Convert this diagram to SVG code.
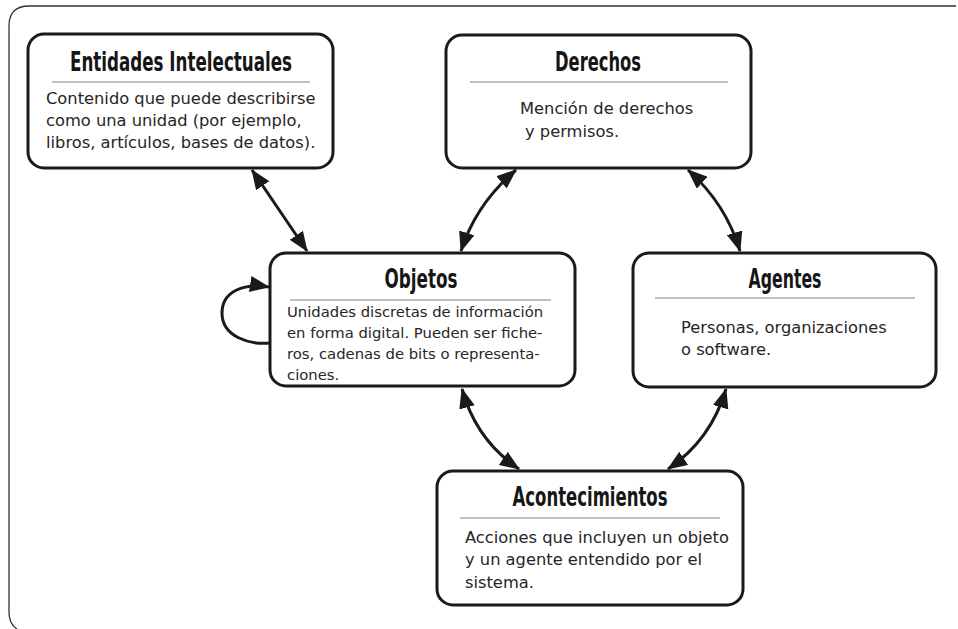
<svg xmlns="http://www.w3.org/2000/svg" width="958" height="629" viewBox="0 0 958 629">
<defs>
<style>
.box{fill:#fff;stroke:#1a1a1a;stroke-width:3}
.sep{stroke:#aaa;stroke-width:1.3}
.title{font-family:"DejaVu Sans Condensed","Liberation Sans Narrow","DejaVu Sans",sans-serif;font-weight:bold;font-size:27px;fill:#161616}
.body{font-family:"DejaVu Sans","Verdana",sans-serif;font-size:16.3px;fill:#262626}
.small{font-size:14.8px}
.conn{fill:none;stroke:#1a1a1a;stroke-width:3}
</style>
<marker id="ah" viewBox="0 0 20 16" refX="19" refY="8" markerWidth="20" markerHeight="16" markerUnits="userSpaceOnUse" orient="auto-start-reverse">
<path d="M0,0 L20,8 L0,16 Z" fill="#1a1a1a"/>
</marker>
</defs>
<rect width="958" height="629" fill="#fff"/>
<path d="M956,6 L29,6 Q9,6 9,26 L9,612 Q9,624 17,629" fill="none" stroke="#333" stroke-width="1.3"/>

<g id="connectors">
<path class="conn" d="M252,170 L307,251" marker-start="url(#ah)" marker-end="url(#ah)"/>
<path class="conn" d="M516,170 Q476,204 461,251" marker-start="url(#ah)" marker-end="url(#ah)"/>
<path class="conn" d="M688,170 Q726,204 740,251" marker-start="url(#ah)" marker-end="url(#ah)"/>
<path class="conn" d="M462,389 Q476,440 519,469" marker-start="url(#ah)" marker-end="url(#ah)"/>
<path class="conn" d="M726,389 Q711,440 668,469" marker-start="url(#ah)" marker-end="url(#ah)"/>
<path class="conn" d="M270,343 C250,345 222,337 222,313 C222,291 244,283 269,287" marker-end="url(#ah)"/>
</g>

<g id="entidades">
<rect class="box" x="28" y="34" width="305" height="134" rx="16"/>
<text class="title" x="181" y="71" text-anchor="middle" textLength="222" lengthAdjust="spacingAndGlyphs">Entidades Intelectuales</text>
<line class="sep" x1="52" y1="82" x2="310" y2="82"/>
<text class="body" x="46" y="104">Contenido que puede describirse</text>
<text class="body" x="46" y="126">como una unidad (por ejemplo,</text>
<text class="body" x="46" y="148">libros, artículos, bases de datos).</text>
</g>

<g id="derechos">
<rect class="box" x="446" y="35" width="305" height="133" rx="16"/>
<text class="title" x="598" y="71" text-anchor="middle" textLength="86" lengthAdjust="spacingAndGlyphs">Derechos</text>
<line class="sep" x1="470" y1="82" x2="728" y2="82"/>
<text class="body" x="520" y="114">Mención de derechos</text>
<text class="body" x="525" y="137">y permisos.</text>
</g>

<g id="objetos">
<rect class="box" x="270" y="253" width="305" height="133" rx="16"/>
<text class="title" x="421" y="288" text-anchor="middle" textLength="73" lengthAdjust="spacingAndGlyphs">Objetos</text>
<line class="sep" x1="290" y1="300" x2="551" y2="300"/>
<text class="body small" x="287" y="317">Unidades discretas de información</text>
<text class="body small" x="287" y="338">en forma digital. Pueden ser fiche-</text>
<text class="body small" x="287" y="359">ros, cadenas de bits o representa-</text>
<text class="body small" x="287" y="380">ciones.</text>
</g>

<g id="agentes">
<rect class="box" x="633" y="253" width="303" height="134" rx="16"/>
<text class="title" x="785" y="288" text-anchor="middle" textLength="73" lengthAdjust="spacingAndGlyphs">Agentes</text>
<line class="sep" x1="655" y1="298" x2="915" y2="298"/>
<text class="body" x="681" y="333">Personas, organizaciones</text>
<text class="body" x="681" y="355">o software.</text>
</g>

<g id="acontecimientos">
<rect class="box" x="437" y="471" width="306" height="134" rx="16"/>
<text class="title" x="590" y="506" text-anchor="middle" textLength="155" lengthAdjust="spacingAndGlyphs">Acontecimientos</text>
<line class="sep" x1="460" y1="518" x2="720" y2="518"/>
<text class="body" x="465" y="543">Acciones que incluyen un objeto</text>
<text class="body" x="465" y="565">y un agente entendido por el</text>
<text class="body" x="465" y="588">sistema.</text>
</g>
</svg>
